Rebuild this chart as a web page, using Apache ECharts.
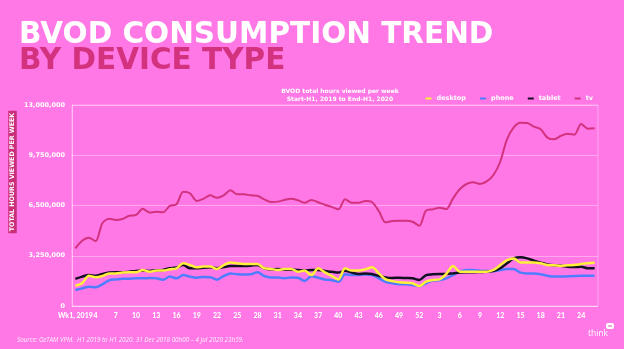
<!DOCTYPE html>
<html>
<head>
<meta charset="utf-8">
<script src="https://cdn.jsdelivr.net/npm/echarts@6/dist/echarts.min.js"></script>
<style>
html,body{margin:0;padding:0;background:#ff78e6;}
#c{width:624px;height:349px;}
</style>
</head>
<body>
<div id="c"></div>
<script>
const weeks = ["Wk1, 2019","2","3","4","5","6","7","8","9","10","11","12","13","14","15","16","17","18","19","20","21","22","23","24","25","26","27","28","29","30","31","32","33","34","35","36","37","38","39","40","41","42","43","44","45","46","47","48","49","50","51","52",
"1","2","3","4","5","6","7","8","9","10","11","12","13","14","15","16","17","18","19","20","21","22","23","24","25","26"];

const tv = [3.73,4.22,4.42,4.20,5.35,5.65,5.56,5.63,5.84,5.89,6.29,6.04,6.10,6.06,6.47,6.58,7.39,7.29,6.79,6.94,7.16,7.00,7.16,7.48,7.22,7.22,7.16,7.13,6.90,6.73,6.75,6.86,6.94,6.84,6.68,6.86,6.71,6.55,6.41,6.25,6.90,6.68,6.68,6.79,6.71,6.14,5.41,5.50,5.52,5.52,5.45,5.19,
6.17,6.25,6.36,6.27,6.96,7.55,7.89,8.00,7.89,8.06,8.47,9.33,10.78,11.56,11.86,11.84,11.60,11.43,10.89,10.78,11.01,11.14,11.08,11.77,11.47,11.49];

const desktop = [1.31,1.47,1.96,1.86,1.94,2.11,2.11,2.16,2.18,2.18,2.33,2.22,2.29,2.29,2.37,2.44,2.76,2.65,2.50,2.55,2.55,2.40,2.65,2.82,2.76,2.72,2.72,2.72,2.44,2.40,2.33,2.40,2.40,2.22,2.29,2.00,2.44,2.18,1.95,1.72,2.44,2.29,2.29,2.37,2.50,2.11,1.72,1.61,1.53,1.51,1.47,1.29,
1.57,1.68,1.72,2.07,2.59,2.22,2.22,2.22,2.22,2.22,2.33,2.65,2.97,3.08,2.82,2.82,2.82,2.76,2.65,2.63,2.59,2.63,2.65,2.71,2.76,2.80];

const phone = [1.03,1.14,1.25,1.21,1.40,1.66,1.72,1.77,1.77,1.79,1.79,1.81,1.79,1.70,1.90,1.79,2.00,1.90,1.83,1.88,1.86,1.70,1.94,2.11,2.05,2.03,2.05,2.18,1.94,1.85,1.85,1.79,1.85,1.83,1.62,1.92,1.83,1.72,1.67,1.57,2.05,2.00,2.00,2.03,2.00,1.79,1.57,1.47,1.40,1.40,1.36,1.29,
1.47,1.64,1.68,1.79,2.00,2.22,2.33,2.33,2.28,2.26,2.26,2.33,2.39,2.39,2.16,2.11,2.11,2.05,1.96,1.90,1.90,1.92,1.94,1.96,1.96,1.96];

const tablet = [1.75,1.90,2.00,1.96,2.07,2.16,2.18,2.18,2.22,2.27,2.29,2.27,2.31,2.33,2.44,2.50,2.65,2.44,2.44,2.48,2.50,2.44,2.52,2.59,2.59,2.59,2.61,2.65,2.44,2.37,2.39,2.35,2.35,2.33,2.29,2.33,2.33,2.27,2.21,2.16,2.28,2.16,2.07,2.11,2.07,1.94,1.85,1.81,1.83,1.81,1.79,1.68,
2.00,2.05,2.07,2.07,2.11,2.16,2.18,2.18,2.20,2.22,2.26,2.44,2.76,3.08,3.15,3.08,2.93,2.80,2.69,2.63,2.61,2.54,2.52,2.54,2.44,2.44];

const yTicks = [0, 3250000, 6500000, 9750000, 13000000];

const M = v => v.map(x => x * 1e6);
const chart = echarts.init(document.getElementById('c'));
const FONT = 'DejaVu Sans';
const lab = {color:'#ffffff', fontFamily:FONT, fontWeight:'bold', fontSize:6.5};
function mk(name, data, color, width, z){
  return {name, type:'line', data:M(data), symbol:'none', smooth:0.3, z:z,
    lineStyle:{color, width}, itemStyle:{color}};
}
chart.setOption({
  backgroundColor:'#ff78e6',
  animation:false,
  title:[
    {text:'BVOD CONSUMPTION TREND', left:14, top:16,
     textStyle:{color:'#ffffff', fontFamily:FONT, fontWeight:'bold', fontSize:29.5, lineHeight:29}},
    {text:'BY DEVICE TYPE', left:14, top:42,
     textStyle:{color:'#d3327f', fontFamily:FONT, fontWeight:'bold', fontSize:29.5, lineHeight:29}},
    {text:'BVOD total hours viewed per week\nStart-H1, 2019 to End-H1, 2020', left:335, top:83, textAlign:'center',
     textStyle:{color:'#ffffff', fontFamily:FONT, fontWeight:'bold', fontSize:6, lineHeight:7.5}}
  ],
  legend:{
    right:26, top:90, icon:'rect', itemWidth:6, itemHeight:2, itemGap:14,
    textStyle:{color:'#ffffff', fontFamily:FONT, fontWeight:'bold', fontSize:6.5},
    data:['desktop','phone','tablet','tv']
  },
  grid:{left:72, right:26, top:105, bottom:43, show:true, borderColor:'rgba(255,255,255,0.35)', borderWidth:1},
  xAxis:{
    type:'category', data:weeks, boundaryGap:true,
    axisLine:{lineStyle:{color:'rgba(255,255,255,0.4)'}},
    axisTick:{show:false},
    axisLabel:{interval:2, margin:6, hideOverlap:false, color:'#ffffff', fontFamily:'Lato', fontWeight:900, fontSize:7}
  },
  yAxis:{
    type:'value', min:0, max:13000000, interval:3250000,
    axisLine:{show:true, lineStyle:{color:'rgba(255,255,255,0.4)'}},
    axisLabel:Object.assign({margin:7, formatter:v => yTicks.includes(v) ? v.toLocaleString('en-US') : ''}, lab),
    splitLine:{lineStyle:{color:'rgba(255,255,255,0.35)'}}
  },
  series:[
    mk('desktop', desktop, '#fff03a', 2.5, 4),
    mk('phone', phone, '#4f7dff', 2.5, 2),
    mk('tablet', tablet, '#111122', 2.5, 3),
    mk('tv', tv, '#d3327f', 2, 5)
  ],
  graphic:[
    {type:'text', x:12.5, y:172, rotation:Math.PI/2,
     style:{text:'TOTAL HOURS VIEWED PER WEEK', fill:'#ffffff', font:'bold 6.3px "DejaVu Sans"', align:'center', verticalAlign:'middle',
       backgroundColor:'#c92f7a', padding:[1.5,2,1,2]}},
    {type:'text', x:17, y:340,
     style:{text:'Source: OzTAM VPM.  H1 2019 to H1 2020. 31 Dec 2018 00h00 – 4 Jul 2020 23h59.', fill:'rgba(255,255,255,0.9)', font:'italic 6.3px "Open Sans"', verticalAlign:'middle'}},
    {type:'text', x:588, y:334,
     style:{text:'think', fill:'#ffffff', font:'8.5px "Open Sans"', verticalAlign:'middle'}},
    {type:'rect', shape:{x:606, y:323, width:8, height:6, r:2}, style:{fill:'#ffffff'}},
    {type:'rect', shape:{x:608, y:325.5, width:4, height:1}, style:{fill:'#e04fb0'}}
  ]
});
</script>
</body>
</html>
